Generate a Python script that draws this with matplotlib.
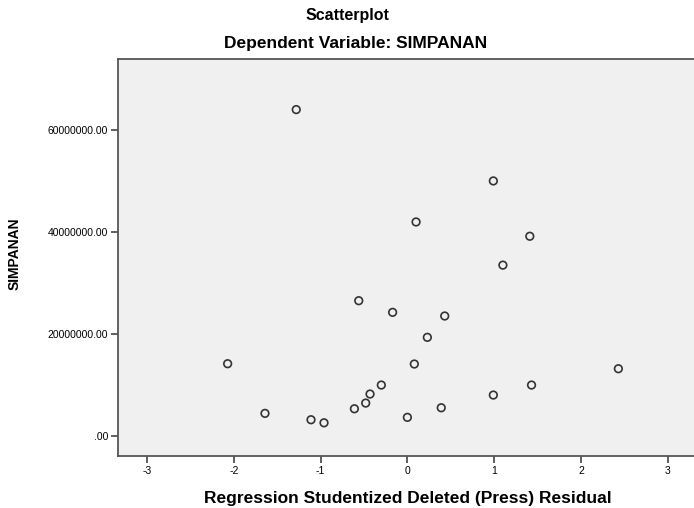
import matplotlib
matplotlib.use("Agg")
import matplotlib.pyplot as plt
from matplotlib.ticker import FuncFormatter

# ---------- Data ----------
residual = [-1.28, 0.99, 0.10, 1.41, 1.10, -0.56, -0.17, 0.43, 0.23, -2.07,
            0.08, 2.43, 1.43, -0.30, 0.99, -0.43, -0.48, -0.61, 0.39, -1.64,
            -1.11, -0.96, 0.00]
simpanan = [63980000, 50000000, 41960000, 39160000, 33500000, 26530000,
            24250000, 23530000, 19350000, 14180000, 14120000, 13200000,
            10000000, 10000000, 8040000, 8240000, 6470000, 5350000,
            5550000, 4450000, 3200000, 2600000, 3670000]

x_ticks = [-3, -2, -1, 0, 1, 2, 3]
y_ticks = [0, 20000000, 40000000, 60000000]

plt.rcParams['font.family'] = ['Liberation Sans', 'DejaVu Sans']

fig = plt.figure(figsize=(6.94, 5.08), dpi=100)
ax = fig.add_axes([0.170, 0.1024, 0.834, 0.7815])
ax.set_facecolor("#f0f0f0")

ax.scatter(residual, simpanan, s=30, facecolors="none",
           edgecolors="#333333", linewidths=1.2, zorder=3)

ax.set_xlim(-3.333, 3.333)
ax.set_ylim(-3900000, 73900000)
ax.set_xticks(x_ticks)
ax.set_yticks(y_ticks)


def fmt_y(v, pos):
    s = f"{v:.2f}"
    if s.startswith("0."):
        s = s[1:]
    return s


ax.yaxis.set_major_formatter(FuncFormatter(fmt_y))
ax.xaxis.set_major_formatter(FuncFormatter(lambda v, p: f"{int(round(v))}"))

for side in ["left", "bottom", "top", "right"]:
    ax.spines[side].set_color("#555555")
    ax.spines[side].set_linewidth(1.3)

ax.tick_params(axis="both", direction="out", length=5, width=1.2,
               color="#444444", labelsize=7.5, pad=2)

ax.set_xlabel("Regression Studentized Deleted (Press) Residual",
              fontsize=12.5, fontweight="bold", labelpad=11)
ax.set_ylabel("SIMPANAN", fontsize=10, fontweight="bold")
ax.yaxis.set_label_coords(-0.166, 0.51)

fig.text(0.50, 0.970, "Scatterplot", ha="center", va="center",
         fontsize=11.5, fontweight="bold")
fig.text(0.513, 0.915, "Dependent Variable: SIMPANAN", ha="center",
         va="center", fontsize=12.5, fontweight="bold")

fig.savefig("out.png", dpi=100)
